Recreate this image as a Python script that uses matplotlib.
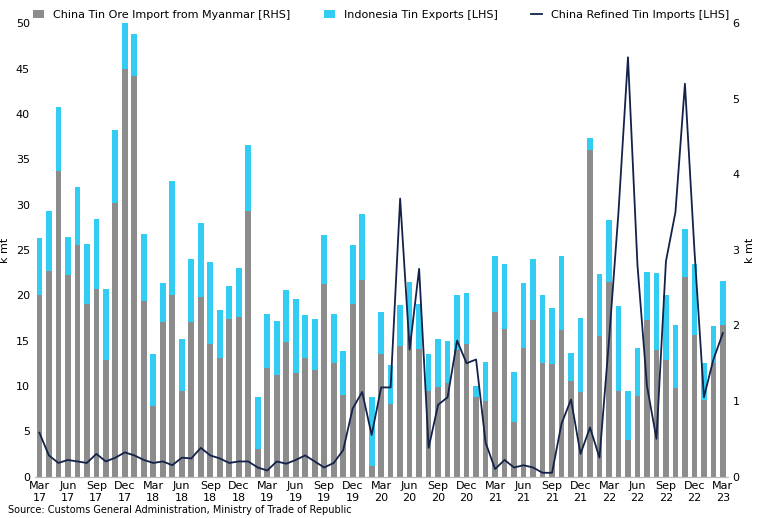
import matplotlib
matplotlib.use("Agg")
import matplotlib.pyplot as plt
import numpy as np

months = ["Jan","Feb","Mar","Apr","May","Jun","Jul","Aug","Sep","Oct","Nov","Dec"]
labels = []
for i in range(73):
    m = (2 + i) % 12
    y = 17 + (2 + i) // 12
    labels.append(f"{months[m]}\n{y}")

total = [26.3,29.3,40.8,26.4,31.9,25.6,28.4,20.7,38.2,50,48.8,26.8,13.5,21.3,32.6,15.2,24,28,23.7,18.4,21,23,36.6,
         8.8,17.9,17.2,20.6,19.6,17.8,17.4,26.7,17.9,13.8,25.5,29,8.8,18.2,12.3,18.9,21.5,19,13.5,15.2,15,20,20.2,
         10,12.6,24.3,23.5,11.5,21.3,24,20,18.6,24.3,13.6,17.5,37.3,22.4,28.3,18.8,9.4,14.2,22.6,22.5,20,16.7,27.3,23.5,12.5,16.6,21.6]
myanmar = [20,22.7,33.7,22.2,25.5,19,20.7,12.9,30.2,45,44.2,19.4,7.8,17.1,20,9.4,17.1,19.8,14.6,13.1,17.4,17.6,29.3,
           3,12,11.2,14.8,11.4,13.1,11.8,21.2,12.5,9,19,21.7,1.2,13.5,8,14.4,15.5,14.1,9.4,9.9,10.3,14,14.6,
           8.8,8.3,18.2,16.3,6,14.2,17.3,12.5,12.4,16.2,10.5,9.3,36,15.5,21.5,9.4,4,8.9,17.3,14,12.9,9.8,22,15.6,8.5,12.5,16.7]
refined = [0.58,0.28,0.18,0.22,0.2,0.18,0.3,0.2,0.25,0.32,0.28,0.22,0.18,0.2,0.15,0.25,0.24,0.38,0.28,0.24,0.18,0.2,
           0.2,0.12,0.08,0.2,0.17,0.22,0.28,0.2,0.12,0.18,0.35,0.9,
           1.12,0.55,1.18,1.18,3.68,1.68,2.75,0.38,0.95,1.05,1.8,1.5,
           1.55,0.45,0.1,0.22,0.12,0.15,0.12,0.05,0.05,0.7,1.02,0.3,
           0.65,0.25,1.8,3.5,5.55,2.8,1.2,0.5,2.85,3.5,5.2,3.0,1.05,1.55,1.9]
indonesia = [t - m for t, m in zip(total, myanmar)]

x = np.arange(len(labels))
fig, ax = plt.subplots(figsize=(7.7, 5.18), dpi=100)
fig.subplots_adjust(left=0.045, right=0.945, top=0.955, bottom=0.08)
ax.bar(x, myanmar, width=0.6, color="#8c8c8c", label="China Tin Ore Import from Myanmar [RHS]")
ax.bar(x, indonesia, bottom=myanmar, width=0.6, color="#33ccf2", label="Indonesia Tin Exports [LHS]")
ax.set_ylim(0, 50)
ax.set_yticks(range(0, 51, 5))
ax.set_xlim(-0.5, 72.5)
ax.set_xticks(x[::3])
ax.set_xticklabels(labels[::3])
ax.set_ylabel("k mt", fontsize=8)
ax2 = ax.twinx()
ax2.plot(x, refined, color="#13224a", lw=1.3, label="China Refined Tin Imports [LHS]")
ax2.set_ylim(0, 6)
ax2.set_ylabel("k mt", fontsize=8)
for a in (ax, ax2):
    a.tick_params(labelsize=8, length=0)
    for s in ["top", "right", "left"]:
        a.spines[s].set_visible(False)
    a.spines["bottom"].set_color("#bbbbbb")
h1, l1 = ax.get_legend_handles_labels()
h2, l2 = ax2.get_legend_handles_labels()
ax.legend(h1 + h2, l1 + l2, loc="lower center", bbox_to_anchor=(0.5, 0.985), ncol=3,
          frameon=False, fontsize=8, handlelength=1.0, columnspacing=3)
fig.text(0.01, 0.01, "Source: Customs General Administration, Ministry of Trade of Republic", fontsize=7)
fig.savefig("out.png")
